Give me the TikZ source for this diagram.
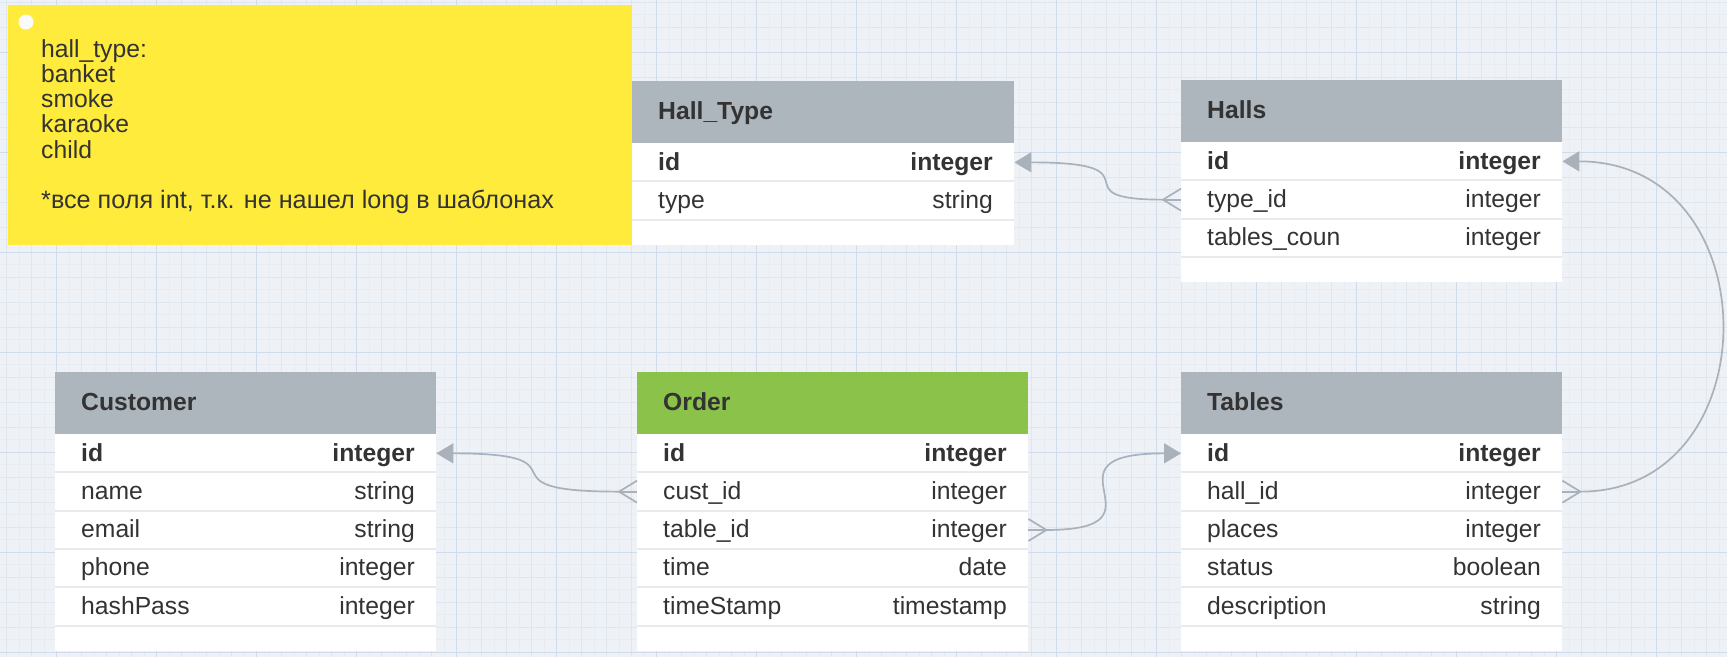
\documentclass[tikz,border=0pt]{standalone}
\usepackage{fontspec}
\setmainfont{Liberation Sans}
\usetikzlibrary{arrows.meta}
\definecolor{bgcol}{HTML}{EEF2F6}
\definecolor{gfaint}{HTML}{E7ECF2}
\definecolor{gmed}{HTML}{DEE6EF}
\definecolor{gstrong}{HTML}{D0DCEB}
\definecolor{hdrgray}{HTML}{ADB5BD}
\definecolor{hdrgreen}{HTML}{8BC34A}
\definecolor{noteyellow}{HTML}{FFEB3B}
\definecolor{txt}{HTML}{333333}
\definecolor{conncol}{HTML}{A9B1BA}
\definecolor{sepcol}{HTML}{E8EBEE}

\tikzset{
  hdr/.style={rectangle, draw=none, inner sep=0pt, minimum height=62.5pt},
  htext/.style={inner sep=0pt, anchor=base west, text=txt, font=\fontsize{24.7}{28}\selectfont\bfseries},
  rowbox/.style={rectangle, fill=white, draw=none, inner sep=0pt, minimum height=38.3pt},
  emptybox/.style={rectangle, fill=white, draw=none, inner sep=0pt, minimum height=25pt},
  fname/.style={inner sep=0pt, anchor=base west, text=txt, font=\fontsize{24.7}{28}\selectfont},
  ftype/.style={inner sep=0pt, anchor=base east, text=txt, font=\fontsize{24.7}{28}\selectfont},
  notetext/.style={inner sep=0pt, anchor=base west, text=txt, font=\fontsize{24.7}{28}\selectfont},
  sepline/.style={draw=sepcol, line width=2pt},
  conn/.style={draw=conncol, line width=1.7pt, line join=round},
  onearrow/.style={-{Triangle[length=17pt,width=20pt]}},
}

% #1 name, #2 x, #3 y, #4 width, #5 header fill, #6 title, #7 rows, #8 number of rows
\newcommand{\ertable}[8]{%
  \node[hdr, fill=#5, minimum width=#4pt, anchor=north west] (#1-h) at (#2,#3) {};
  \node[htext] (#1-t) at ({#2+26},{#3+38.5}) {#6};
  \foreach[count=\i] \f/\t in {#7} {
    \node[rowbox, minimum width=#4pt, anchor=north west] (#1-r\i) at (#2,{#3+62.5+(\i-1)*38.3}) {};
    \ifnum\i>1 \draw[sepline] (#1-r\i.north west) -- (#1-r\i.north east);\fi
    \node[fname] (#1-f\i) at ({#2+26},{#3+62.5+(\i-1)*38.3+27}) {\ifnum\i=1\bfseries\fi\f};
    \node[ftype] (#1-y\i) at ({#2+#4-21},{#3+62.5+(\i-1)*38.3+27}) {\ifnum\i=1\bfseries\fi\t};
  }
  \node[emptybox, minimum width=#4pt, anchor=north west] (#1-e) at (#2,{#3+62.5+#8*38.3}) {};
  \draw[sepline] (#1-e.north west) -- (#1-e.north east);
}

\begin{document}
\begin{tikzpicture}[x=1pt,y=-1pt]
  % background and grid
  \fill[bgcol] (0,0) rectangle (1727,657);
  \useasboundingbox (0,0) rectangle (1727,657);
  \foreach \gx in {0,...,137} {\draw[gfaint, line width=1pt] ({6.7+\gx*12.5},0) -- ({6.7+\gx*12.5},657);}
  \foreach \gy in {0,...,52} {\draw[gfaint, line width=1pt] (0,{2+\gy*12.5}) -- (1727,{2+\gy*12.5});}
  \foreach \gx in {0,...,68} {\draw[gmed, line width=1pt] ({6.7+\gx*25},0) -- ({6.7+\gx*25},657);}
  \foreach \gy in {0,...,26} {\draw[gmed, line width=1pt] (0,{2+\gy*25}) -- (1727,{2+\gy*25});}
  \foreach \gx in {0,...,16} {\draw[gstrong, line width=1pt] ({56.7+\gx*100},0) -- ({56.7+\gx*100},657);}
  \foreach \gy in {0,...,6} {\draw[gstrong, line width=1pt] (0,{52+\gy*100}) -- (1727,{52+\gy*100});}

  % note
  \node[rectangle, fill=noteyellow, draw=none, inner sep=0pt, minimum width=624pt, minimum height=240pt, anchor=north west] (note) at (8,5) {};
  \node[circle, fill=white!96!gray, draw=none, inner sep=0pt, minimum size=15pt] (notedot) at (26,22) {};
  \node[notetext] (n1) at (41,57) {hall\_type:};
  \node[notetext] (n2) at (41,82) {banket};
  \node[notetext] (n3) at (41,107.3) {smoke};
  \node[notetext] (n4) at (41,132.6) {karaoke};
  \node[notetext] (n5) at (41,158) {child};
  \node[notetext, font=\fontsize{25.2}{28}\selectfont] (n6) at (41,208.5) {*все поля int, т.к. не нашел long в шаблонах};

  % tables
  \ertable{ht}{632}{80.5}{382}{hdrgray}{Hall\_Type}{id/integer, type/string}{2}
  \ertable{halls}{1181}{79.5}{381}{hdrgray}{Halls}{id/integer, type\_id/integer, tables\_coun/integer}{3}
  \ertable{cust}{55}{371.5}{381}{hdrgray}{Customer}{id/integer, name/string, email/string, phone/integer, hashPass/integer}{5}
  \ertable{ord}{637}{371.5}{391}{hdrgreen}{Order}{id/integer, cust\_id/integer, table\_id/integer, time/date, timeStamp/timestamp}{5}
  \ertable{tab}{1181}{371.5}{381}{hdrgray}{Tables}{id/integer, hall\_id/integer, places/integer, status/boolean, description/string}{5}

  % connector: Halls.type_id -> Hall_Type.id
  \coordinate (k1) at ([xshift=-18pt]halls-r2.west);
  \draw[conn] ([yshift=11pt]halls-r2.west) -- (k1) -- ([yshift=-11pt]halls-r2.west);
  \draw[conn] (k1) -- (halls-r2.west);
  \draw[conn, onearrow] (k1) .. controls +(-110,0) and +(150,0) .. (ht-r1.east);

  % connector: Order.cust_id -> Customer.id
  \coordinate (k2) at ([xshift=-18pt]ord-r2.west);
  \draw[conn] ([yshift=11pt]ord-r2.west) -- (k2) -- ([yshift=-11pt]ord-r2.west);
  \draw[conn] (k2) -- (ord-r2.west);
  \draw[conn, onearrow] (k2) .. controls +(-150,0) and +(160,0) .. (cust-r1.east);

  % connector: Order.table_id -> Tables.id
  \coordinate (k3) at ([xshift=18pt]ord-r3.east);
  \draw[conn] ([yshift=11pt]ord-r3.east) -- (k3) -- ([yshift=-11pt]ord-r3.east);
  \draw[conn] (k3) -- (ord-r3.east);
  \draw[conn, onearrow] (k3) .. controls +(130,0) and +(-150,0) .. (tab-r1.west);

  % connector: Tables.hall_id -> Halls.id
  \coordinate (k4) at ([xshift=18pt]tab-r2.east);
  \draw[conn] ([yshift=11pt]tab-r2.east) -- (k4) -- ([yshift=-11pt]tab-r2.east);
  \draw[conn] (k4) -- (tab-r2.east);
  \draw[conn, onearrow] (k4) .. controls +(191,0) and +(209,0) .. (halls-r1.east);
\end{tikzpicture}
\end{document}
